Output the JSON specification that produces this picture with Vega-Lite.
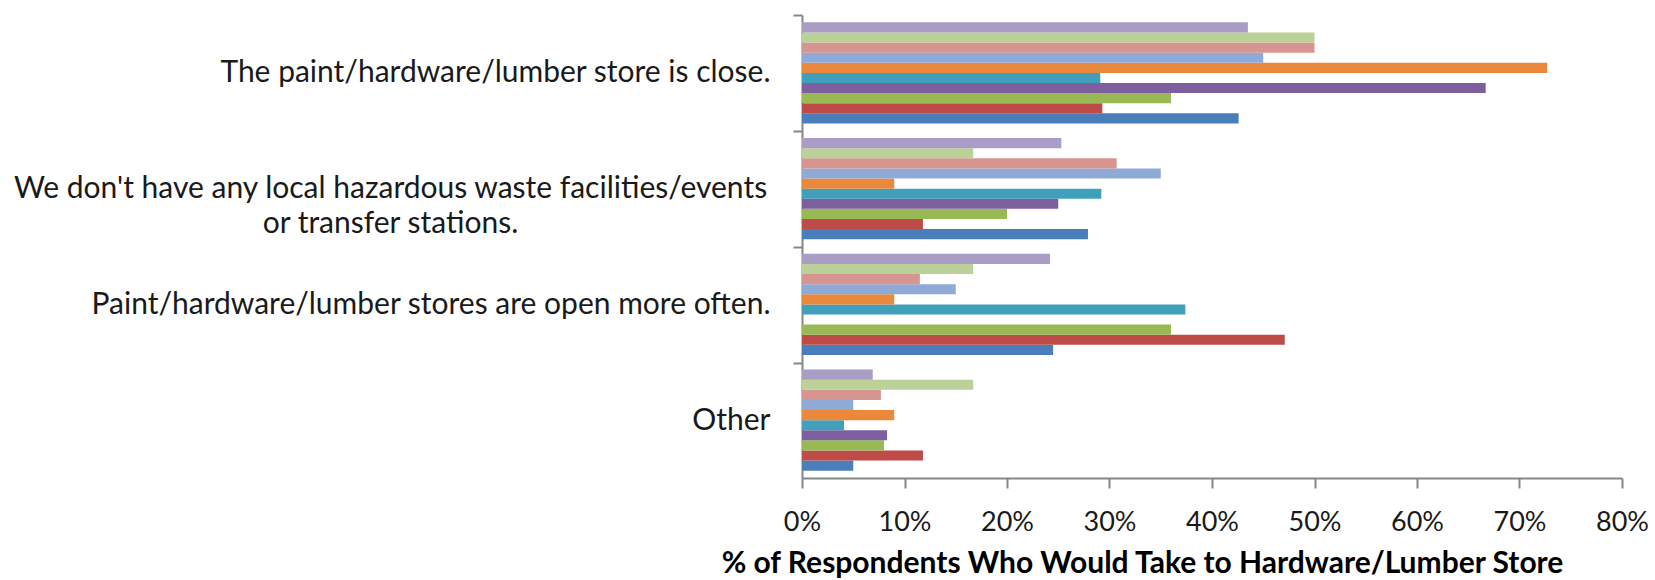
{
  "$schema": "https://vega.github.io/schema/vega-lite/v6.json",
  "width": 820,
  "height": 463,
  "autosize": "none",
  "padding": {"left": 802, "top": 15, "right": 33, "bottom": 102},
  "background": "white",
  "config": {"view": {"stroke": null}, "font": "Lato"},
  "data": {
    "values": [
      {"category": "The paint/hardware/lumber store is close.", "series": "S1", "value": 0.426},
      {"category": "The paint/hardware/lumber store is close.", "series": "S2", "value": 0.293},
      {"category": "The paint/hardware/lumber store is close.", "series": "S3", "value": 0.360},
      {"category": "The paint/hardware/lumber store is close.", "series": "S4", "value": 0.667},
      {"category": "The paint/hardware/lumber store is close.", "series": "S5", "value": 0.291},
      {"category": "The paint/hardware/lumber store is close.", "series": "S6", "value": 0.727},
      {"category": "The paint/hardware/lumber store is close.", "series": "S7", "value": 0.450},
      {"category": "The paint/hardware/lumber store is close.", "series": "S8", "value": 0.500},
      {"category": "The paint/hardware/lumber store is close.", "series": "S9", "value": 0.500},
      {"category": "The paint/hardware/lumber store is close.", "series": "S10", "value": 0.435},
      {"category": "We don't have any local hazardous waste facilities/events or transfer stations.", "series": "S1", "value": 0.279},
      {"category": "We don't have any local hazardous waste facilities/events or transfer stations.", "series": "S2", "value": 0.118},
      {"category": "We don't have any local hazardous waste facilities/events or transfer stations.", "series": "S3", "value": 0.200},
      {"category": "We don't have any local hazardous waste facilities/events or transfer stations.", "series": "S4", "value": 0.250},
      {"category": "We don't have any local hazardous waste facilities/events or transfer stations.", "series": "S5", "value": 0.292},
      {"category": "We don't have any local hazardous waste facilities/events or transfer stations.", "series": "S6", "value": 0.090},
      {"category": "We don't have any local hazardous waste facilities/events or transfer stations.", "series": "S7", "value": 0.350},
      {"category": "We don't have any local hazardous waste facilities/events or transfer stations.", "series": "S8", "value": 0.307},
      {"category": "We don't have any local hazardous waste facilities/events or transfer stations.", "series": "S9", "value": 0.167},
      {"category": "We don't have any local hazardous waste facilities/events or transfer stations.", "series": "S10", "value": 0.253},
      {"category": "Paint/hardware/lumber stores are open more often.", "series": "S1", "value": 0.245},
      {"category": "Paint/hardware/lumber stores are open more often.", "series": "S2", "value": 0.471},
      {"category": "Paint/hardware/lumber stores are open more often.", "series": "S3", "value": 0.360},
      {"category": "Paint/hardware/lumber stores are open more often.", "series": "S4", "value": 0.0},
      {"category": "Paint/hardware/lumber stores are open more often.", "series": "S5", "value": 0.374},
      {"category": "Paint/hardware/lumber stores are open more often.", "series": "S6", "value": 0.090},
      {"category": "Paint/hardware/lumber stores are open more often.", "series": "S7", "value": 0.150},
      {"category": "Paint/hardware/lumber stores are open more often.", "series": "S8", "value": 0.115},
      {"category": "Paint/hardware/lumber stores are open more often.", "series": "S9", "value": 0.167},
      {"category": "Paint/hardware/lumber stores are open more often.", "series": "S10", "value": 0.242},
      {"category": "Other", "series": "S1", "value": 0.050},
      {"category": "Other", "series": "S2", "value": 0.118},
      {"category": "Other", "series": "S3", "value": 0.080},
      {"category": "Other", "series": "S4", "value": 0.083},
      {"category": "Other", "series": "S5", "value": 0.041},
      {"category": "Other", "series": "S6", "value": 0.090},
      {"category": "Other", "series": "S7", "value": 0.050},
      {"category": "Other", "series": "S8", "value": 0.077},
      {"category": "Other", "series": "S9", "value": 0.167},
      {"category": "Other", "series": "S10", "value": 0.069}
    ]
  },
  "mark": {"type": "bar"},
  "encoding": {
    "y": {
      "field": "category",
      "type": "nominal",
      "sort": [
        "The paint/hardware/lumber store is close.",
        "We don't have any local hazardous waste facilities/events or transfer stations.",
        "Paint/hardware/lumber stores are open more often.",
        "Other"
      ],
      "scale": {"paddingInner": 0.127, "paddingOuter": 0.0635},
      "axis": {
        "title": null,
        "bandPosition": 0,
        "tickOffset": -7,
        "labelOffset": 7,
        "tickSize": 9,
        "tickColor": "#868686",
        "tickWidth": 2,
        "domainColor": "#868686",
        "domainWidth": 2,
        "labelFont": "Lato",
        "labelFontSize": 30,
        "labelColor": "#1a1a1a",
        "labelLimit": 0,
        "labelLineHeight": 35,
        "labelPadding": {"condition": {"test": "indexof(datum.value, 'We don') == 0", "value": 403}, "value": 23},
        "labelAlign": {"condition": {"test": "indexof(datum.value, 'We don') == 0", "value": "center"}, "value": "right"},
        "labelExpr": "indexof(datum.value, 'We don') == 0 ? [\"We don't have any local hazardous waste facilities/events\", \"or transfer stations.\"] : datum.value"
      }
    },
    "yOffset": {
      "field": "series",
      "type": "nominal",
      "sort": ["S10", "S9", "S8", "S7", "S6", "S5", "S4", "S3", "S2", "S1"]
    },
    "x": {
      "field": "value",
      "type": "quantitative",
      "scale": {"domain": [0, 0.8], "nice": false},
      "axis": {
        "values": [0, 0.1, 0.2, 0.3, 0.4, 0.5, 0.6, 0.7, 0.8],
        "format": ".0%",
        "grid": false,
        "tickSize": 10,
        "tickColor": "#868686",
        "tickWidth": 2,
        "domainColor": "#868686",
        "domainWidth": 2,
        "labelFont": "Lato",
        "labelFontSize": 27,
        "labelColor": "#1a1a1a",
        "labelPadding": 21,
        "labelFlush": false,
        "title": "% of Respondents Who Would Take to Hardware/Lumber Store",
        "titleFont": "Lato",
        "titleFontSize": 30,
        "titleFontWeight": "bold",
        "titleColor": "#000000",
        "titlePadding": 13,
        "titleX": 340,
        "titleAlign": "center"
      }
    },
    "color": {
      "field": "series",
      "type": "nominal",
      "legend": null,
      "scale": {
        "domain": ["S1", "S2", "S3", "S4", "S5", "S6", "S7", "S8", "S9", "S10"],
        "range": ["#4A7EBB", "#BE4B48", "#98B954", "#7D5FA0", "#40A0BB", "#EA883B", "#8FAAD6", "#D79592", "#BBD197", "#A99CC5"]
      }
    }
  }
}
